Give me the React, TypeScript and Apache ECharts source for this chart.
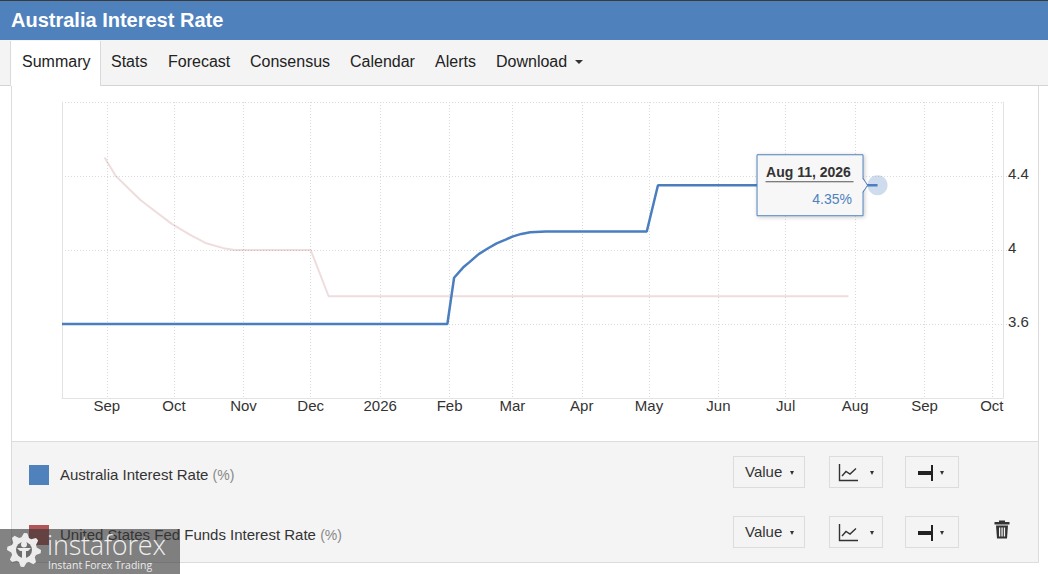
import React, { useEffect, useRef } from "react";
import * as echarts from "echarts";

const FONT = 'Arial, "Liberation Sans", Helvetica, sans-serif';
const MONTHS = ["Jan", "Feb", "Mar", "Apr", "May", "Jun", "Jul", "Aug", "Sep", "Oct", "Nov", "Dec"];

const TITLE = "Australia Interest Rate";
const TABS = ["Summary", "Stats", "Forecast", "Consensus", "Calendar", "Alerts", "Download"];
const TAB_X = [22, 111, 168, 250, 350, 435, 496];

const AU_NAME = "Australia Interest Rate";
const US_NAME = "United States Fed Funds Interest Rate";
const AU_COLOR = "#4a7ebf";
const US_COLOR = "#b05656";

const AU_DATES = [
  "2025-08-12", "2026-01-31", "2026-02-03", "2026-02-07", "2026-02-10", "2026-02-14",
  "2026-02-18", "2026-02-22", "2026-02-26", "2026-03-01", "2026-03-05", "2026-03-09",
  "2026-03-16", "2026-04-30", "2026-05-05", "2026-08-11",
];
const AU_VALUES = [3.6, 3.6, 3.85, 3.905, 3.936, 3.978, 4.008, 4.036, 4.056, 4.072, 4.087, 4.096, 4.1, 4.1, 4.35, 4.35];

const US_DATES = [
  "2025-08-31", "2025-09-05", "2025-09-16", "2025-09-23", "2025-09-30", "2025-10-08",
  "2025-10-15", "2025-10-23", "2025-10-28", "2025-12-01", "2025-12-09", "2026-07-29",
];
const US_VALUES = [4.5, 4.4, 4.27, 4.205, 4.141, 4.083, 4.038, 4.01, 4.0, 4.0, 3.75, 3.75];

const X_MIN = "2025-08-12";
const X_MAX = "2026-10-06";
const Y_MIN = 3.2;
const Y_MAX = 4.8;
const Y_STEP = 0.4;

const DAY = 86400000;

function gearPath(cx: number, cy: number, rOut: number, rIn: number, teeth: number) {
  const n = teeth * 4;
  let d = "";
  for (let i = 0; i < n; i++) {
    const a = (i / n) * Math.PI * 2 - Math.PI / 2;
    const r = i % 4 < 2 ? rOut : rIn;
    const x = cx + r * Math.cos(a);
    const y = cy + r * Math.sin(a);
    d += (i === 0 ? "M" : "L") + x.toFixed(2) + " " + y.toFixed(2) + " ";
  }
  return d + "Z";
}

function Caret({ left, top, w = 6, h = 4 }: { left: number; top: number; w?: number; h?: number }) {
  return (
    <div
      style={{
        position: "absolute",
        left,
        top,
        width: 0,
        height: 0,
        borderLeft: `${w / 2}px solid transparent`,
        borderRight: `${w / 2}px solid transparent`,
        borderTop: `${h}px solid #333`,
      }}
    />
  );
}

function Controls({ top, trash }: { top: number; trash: boolean }) {
  const box = (left: number, width: number): React.CSSProperties => ({
    position: "absolute",
    left,
    top,
    width,
    height: 32,
    boxSizing: "border-box",
    border: "1px solid #dcdcdc",
    background: "#f4f4f4",
  });
  return (
    <>
      <div style={box(733, 72)}>
        <div style={{ position: "absolute", left: 11, top: 5, fontSize: 15, lineHeight: "20px", color: "#333" }}>Value</div>
        <Caret left={56} top={14} w={5} h={4} />
      </div>
      <div style={box(829, 54)}>
        <svg style={{ position: "absolute", left: 8, top: 6 }} width="22" height="20">
          <path d="M1.5 1 V17.5 H20" fill="none" stroke="#333" strokeWidth="1.4" />
          <path d="M4 13 L8 8.5 L12 11 L18 5.5" fill="none" stroke="#333" strokeWidth="1.4" />
        </svg>
        <Caret left={40} top={14} w={5} h={4} />
      </div>
      <div style={box(905, 54)}>
        <div style={{ position: "absolute", left: 12, top: 14, width: 13, height: 4, background: "#222" }} />
        <div style={{ position: "absolute", left: 25, top: 8, width: 2, height: 16, background: "#222" }} />
        <Caret left={34} top={14} w={5} h={4} />
      </div>
      {trash && (
        <svg style={{ position: "absolute", left: 994, top: top + 4 }} width="16" height="19">
          <rect x="5" y="0.5" width="6" height="2" fill="#333" />
          <rect x="0.5" y="2" width="15" height="2.5" fill="#333" />
          <path d="M2 5.5 H14 L13 18.5 H3 Z" fill="#333" />
          <rect x="5" y="7.5" width="1.3" height="9" fill="#f4f4f4" />
          <rect x="7.4" y="7.5" width="1.3" height="9" fill="#f4f4f4" />
          <rect x="9.8" y="7.5" width="1.3" height="9" fill="#f4f4f4" />
        </svg>
      )}
    </>
  );
}

function Chart() {
  const ref = useRef<HTMLDivElement>(null);
  useEffect(() => {
    if (!ref.current) return;
    const chart = echarts.init(ref.current, undefined, { renderer: "svg" });
    const gridLine = { color: "#dadada", type: [1, 2] as any, width: 1 };
    const auData = AU_DATES.map((d, i) => [d, AU_VALUES[i]]);
    const usData = US_DATES.map((d, i) => [d, US_VALUES[i]]);
    const option: any = {
      animation: false,
      textStyle: { fontFamily: FONT },
      grid: { left: 62, right: 45, top: 16, bottom: 43, containLabel: false },
      xAxis: {
        type: "time",
        min: X_MIN,
        max: X_MAX,
        minInterval: 28 * DAY,
        maxInterval: 30 * DAY,
        axisLine: { show: true, lineStyle: { color: "#e3e3e3" } },
        axisTick: { show: false },
        splitLine: { show: true, lineStyle: gridLine },
        axisLabel: {
          color: "#333",
          fontSize: 15,
          fontFamily: FONT,
          margin: 0,
          hideOverlap: false,
          formatter: (val: number) => {
            const d = new Date(val);
            if (d.getDate() !== 1) return "";
            return d.getMonth() === 0 ? String(d.getFullYear()) : MONTHS[d.getMonth()];
          },
        },
      },
      yAxis: [
        {
          type: "value",
          position: "right",
          min: Y_MIN,
          max: Y_MAX,
          interval: Y_STEP,
          axisLine: { show: true, lineStyle: { color: "#e3e3e3" } },
          axisTick: { show: true, length: 10, lineStyle: gridLine },
          splitLine: { show: true, lineStyle: gridLine },
          axisLabel: {
            color: "#333",
            fontSize: 15,
            fontFamily: FONT,
            margin: 5,
            showMinLabel: false,
            showMaxLabel: false,
            verticalAlign: "bottom",
            lineHeight: 5,
            formatter: (v: number) => String(Math.round(v * 10) / 10),
          },
        },
        {
          type: "value",
          position: "left",
          min: Y_MIN,
          max: Y_MAX,
          interval: Y_STEP,
          axisLine: { show: true, lineStyle: { color: "#e3e3e3" } },
          axisTick: { show: false },
          axisLabel: { show: false },
          splitLine: { show: false },
        },
      ],
      series: [
        {
          name: US_NAME,
          type: "line",
          yAxisIndex: 0,
          data: usData,
          showSymbol: false,
          symbol: "none",
          lineStyle: { color: US_COLOR, width: 2, opacity: 0.2 },
          itemStyle: { color: US_COLOR },
          z: 2,
        },
        {
          name: AU_NAME,
          type: "line",
          yAxisIndex: 0,
          data: auData,
          showSymbol: false,
          symbol: "none",
          lineStyle: { color: AU_COLOR, width: 2.5 },
          itemStyle: { color: AU_COLOR },
          z: 3,
        },
      ],
    };
    chart.setOption(option);

    const lastDate = AU_DATES[AU_DATES.length - 1];
    const lastVal = AU_VALUES[AU_VALUES.length - 1];
    const ts = (echarts as any).time.parse(lastDate) as Date;
    const p = chart.convertToPixel({ xAxisIndex: 0, yAxisIndex: 0 }, [ts.getTime(), lastVal]) as number[];
    const label = `${MONTHS[ts.getMonth()]} ${ts.getDate()}, ${ts.getFullYear()}`;
    const [px, py] = p;
    const bx = px - 121;
    const by = py - 31;
    const bw = 106;
    const bh = 61;
    chart.setOption({
      graphic: [
        {
          type: "circle",
          shape: { cx: px, cy: py, r: 10 },
          style: { fill: "rgba(79,129,189,0.28)" },
          z: 10,
          silent: true,
        },
        {
          type: "rect",
          shape: { x: bx + 0.5, y: by + 0.5, width: bw, height: bh },
          style: {
            fill: "#f7f7f7",
            stroke: "#4f81bd",
            lineWidth: 1,
            shadowBlur: 4,
            shadowOffsetX: 1,
            shadowOffsetY: 1,
            shadowColor: "rgba(0,0,0,0.22)",
          },
          z: 20,
          silent: true,
        },
        {
          type: "polygon",
          shape: { points: [[bx + bw - 0.5, py - 7], [px - 10, py], [bx + bw - 0.5, py + 7]] },
          style: { fill: "#f7f7f7" },
          z: 21,
          silent: true,
        },
        {
          type: "polyline",
          shape: { points: [[bx + bw + 0.5, py - 7], [px - 10, py], [bx + bw + 0.5, py + 7]] },
          style: { stroke: "#4f81bd", lineWidth: 1, fill: null },
          z: 21,
          silent: true,
        },
        {
          type: "text",
          x: bx + 9.5,
          y: py - 13,
          style: {
            text: label,
            fill: "#333",
            font: `bold 14px ${FONT}`,
            verticalAlign: "middle",
            align: "left",
          },
          z: 22,
          silent: true,
        },
        {
          type: "line",
          shape: { x1: bx + 9, y1: py - 3.5, x2: bx + bw - 9, y2: py - 3.5 },
          style: { stroke: "#555", lineWidth: 1 },
          z: 22,
          silent: true,
        },
        {
          type: "text",
          x: bx + bw - 10.5,
          y: py + 14,
          style: {
            text: `${lastVal}%`,
            fill: "#4f81bd",
            font: `14px ${FONT}`,
            verticalAlign: "middle",
            align: "right",
          },
          z: 22,
          silent: true,
        },
      ],
    });
    return () => chart.dispose();
  }, []);
  return <div ref={ref} style={{ position: "absolute", left: 0, top: 86, width: 1048, height: 355 }} />;
}

export default function App() {
  return (
    <div
      style={{
        position: "fixed",
        left: 0,
        top: 0,
        width: 1048,
        height: 574,
        overflow: "hidden",
        background: "#fff",
        fontFamily: FONT,
        color: "#333",
      }}
    >
      <div style={{ position: "absolute", left: 0, top: 0, width: 1048, height: 1, background: "#3a3a3a" }} />
      <div style={{ position: "absolute", left: 0, top: 1, width: 1048, height: 39, background: "#4f81bd" }}>
        <div
          style={{
            position: "absolute",
            left: 11,
            top: 7,
            fontSize: 20,
            lineHeight: "24px",
            fontWeight: "bold",
            color: "#fff",
            whiteSpace: "nowrap",
          }}
        >
          {TITLE}
        </div>
      </div>
      <div
        style={{
          position: "absolute",
          left: 0,
          top: 40,
          width: 1048,
          height: 45,
          background: "#f4f4f4",
          borderBottom: "1px solid #d4d4d4",
        }}
      />
      <div
        style={{
          position: "absolute",
          left: 10,
          top: 41,
          width: 91,
          height: 45,
          boxSizing: "border-box",
          background: "#fff",
          borderLeft: "1px solid #dadada",
          borderRight: "1px solid #dadada",
        }}
      />
      {TABS.map((t, i) => (
        <div
          key={t}
          style={{
            position: "absolute",
            left: TAB_X[i],
            top: 52,
            fontSize: 16,
            lineHeight: "20px",
            color: "#222",
            whiteSpace: "nowrap",
          }}
        >
          {t}
        </div>
      ))}
      <Caret left={575} top={60} w={8} h={4} />

      <div
        style={{
          position: "absolute",
          left: 11,
          top: 86,
          width: 1028,
          height: 476,
          boxSizing: "border-box",
          borderLeft: "1px solid #dcdcdc",
          borderRight: "1px solid #dcdcdc",
        }}
      />

      <Chart />

      <div
        style={{
          position: "absolute",
          left: 11,
          top: 441,
          width: 1028,
          height: 122,
          boxSizing: "border-box",
          background: "#f4f4f4",
          border: "1px solid #dcdcdc",
        }}
      />
      <div style={{ position: "absolute", left: 29, top: 465, width: 20, height: 20, background: "#4f81bd" }} />
      <div style={{ position: "absolute", left: 60, top: 465, fontSize: 15, lineHeight: "20px", color: "#333", whiteSpace: "nowrap" }}>
        {AU_NAME} <span style={{ fontSize: 14, color: "#888" }}>(%)</span>
      </div>
      <div style={{ position: "absolute", left: 29, top: 525, width: 20, height: 20, background: US_COLOR }} />
      <div style={{ position: "absolute", left: 60, top: 525, fontSize: 15, lineHeight: "20px", color: "#333", whiteSpace: "nowrap" }}>
        {US_NAME} <span style={{ fontSize: 14, color: "#888" }}>(%)</span>
      </div>
      <Controls top={456} trash={false} />
      <Controls top={516} trash={true} />

      <div
        style={{
          position: "absolute",
          left: 0,
          top: 529,
          width: 180,
          height: 45,
          background: "rgba(55,55,55,0.62)",
        }}
      >
        <svg style={{ position: "absolute", left: 5, top: 2 }} width="38" height="38">
          <path d={gearPath(19, 19, 17, 13, 8)} fill="#ececec" />
          <circle cx="19" cy="19" r="8" fill="#6d6d6d" />
          <circle cx="19" cy="13.5" r="3" fill="#ececec" />
          <path d="M12 17 L26 17 L23 20 L21 20 L21 30 L17 30 L17 20 L15 20 Z" fill="#ececec" />
        </svg>
        <div
          style={{
            position: "absolute",
            left: 47,
            top: 1,
            fontFamily: '"Open Sans", sans-serif',
            fontWeight: 300,
            fontSize: 27,
            lineHeight: "30px",
            color: "rgba(255,255,255,0.88)",
            letterSpacing: -0.2,
            whiteSpace: "nowrap",
          }}
        >
          instaforex
        </div>
        <div
          style={{
            position: "absolute",
            left: 48,
            top: 30,
            fontFamily: '"Open Sans", sans-serif',
            fontSize: 10.5,
            lineHeight: "12px",
            color: "rgba(255,255,255,0.85)",
            whiteSpace: "nowrap",
          }}
        >
          Instant Forex Trading
        </div>
      </div>
    </div>
  );
}
